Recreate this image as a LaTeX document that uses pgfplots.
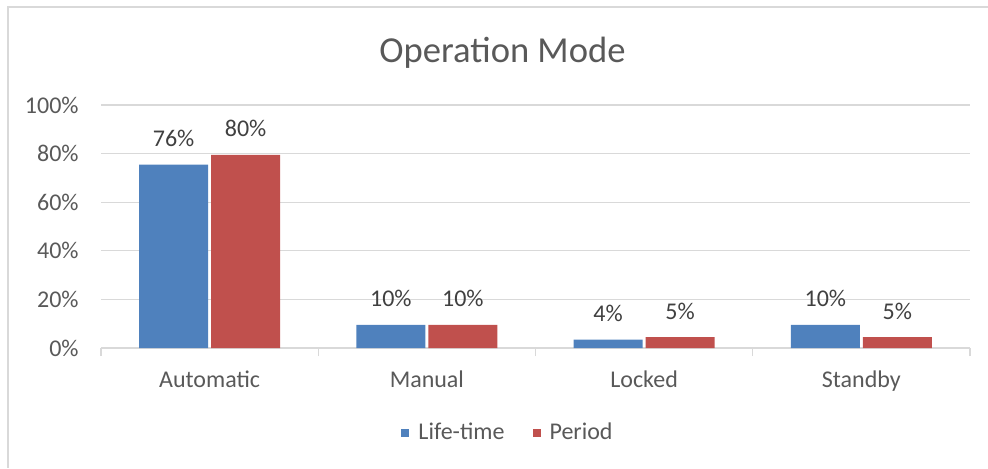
\documentclass[border=0pt]{standalone}
\usepackage{pgfplots}
\pgfplotsset{compat=1.18}
\usepackage{fontspec}
\setmainfont{Carlito}
\definecolor{blueb}{HTML}{4F81BD}
\definecolor{redb}{HTML}{C0504D}
\definecolor{txt}{HTML}{595959}
\definecolor{lbl}{HTML}{404040}
\definecolor{grd}{HTML}{D9D9D9}
\begin{document}
\begin{tikzpicture}
\path (0,0) rectangle (494pt,-234pt);
\fill[grd] (3.55pt,-234pt) rectangle (4.45pt,-3.05pt);
\fill[grd] (3.55pt,-3.05pt) rectangle (494pt,-3.95pt);
\node[anchor=base, inner sep=0pt, text=txt, font=\fontsize{18.3}{22}\selectfont] at (251.25pt,-31.35pt) {Operation Mode};
\begin{axis}[
 at={(50.5pt,-174pt)}, anchor=south west,
 scale only axis, width=434.5pt, height=121.5pt,
 xmin=-0.5, xmax=3.5, ymin=0, ymax=100,
 ybar=1.5pt, bar width=34.5pt,
 axis lines*=left,
 y axis line style={draw=none},
 x axis line style={draw=grd, line width=0.6pt},
 ytick={0,20,40,60,80,100},
 yticklabels={0\%,20\%,40\%,60\%,80\%,100\%},
 ytick style={draw=none},
 ymajorgrids, grid style={draw=grd, line width=0.6pt},
 xtick={-0.5,0.5,1.5,2.5,3.5},
 xticklabels={},
 tick align=outside,
 xtick style={draw=grd, line width=0.6pt},
 major tick length=4pt,
 extra x ticks={0,1,2,3},
 extra x tick labels={Automatic,Manual,Locked,Standby},
 extra x tick style={major tick length=0pt},
 yticklabel style={font=\fontsize{12}{14}\selectfont, text=txt, inner sep=0pt, anchor=east, xshift=-7pt},
 xticklabel style={font=\fontsize{12}{14}\selectfont, text=txt, inner sep=0pt, anchor=base, yshift=-19.6pt},
 nodes near coords,
 point meta=explicit symbolic,
 every node near coord/.append style={font=\fontsize{12}{14}\selectfont, text=lbl, inner sep=0pt, anchor=base, yshift=9pt},
 legend columns=2,
 legend style={at={(0.4695,-0.35)}, anchor=center, draw=none, fill=none,
   font=\fontsize{12}{14}\selectfont, text=txt,
   /tikz/every even column/.append style={column sep=12pt}},
 legend image code/.code={\fill[#1] (0pt,-2pt) rectangle (4pt,2pt); \path (6.5pt,0pt);},
]
\addplot[fill=blueb, draw=none] coordinates {(0,75.5)[76\%] (1,9.5)[10\%] (2,3.5)[4\%] (3,9.5)[10\%]};
\addplot[fill=redb, draw=none] coordinates {(0,79.5)[80\%] (1,9.5)[10\%] (2,4.5)[5\%] (3,4.5)[5\%]};
\legend{Life-time, Period}
\end{axis}
\end{tikzpicture}
\end{document}
